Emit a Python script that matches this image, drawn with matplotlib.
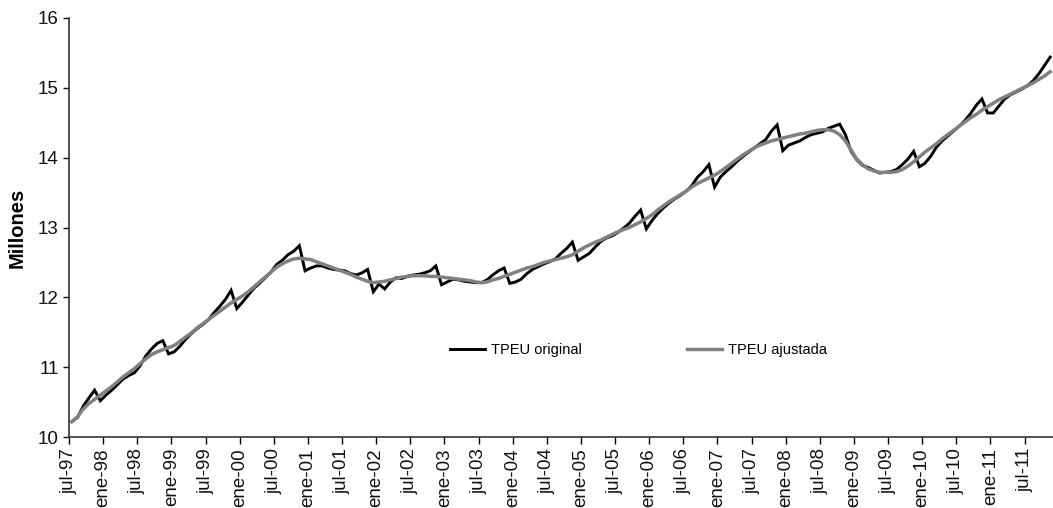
import matplotlib
matplotlib.use("Agg")
import matplotlib.pyplot as plt

plt.rcParams['font.family'] = ['Liberation Sans', 'DejaVu Sans']

tick_labels = []
for yy in range(97, 112):
    yr = f"{yy % 100:02d}"
    if yy > 97:
        tick_labels.append(f"ene-{yr}")
    tick_labels.append(f"jul-{yr}")

# Monthly values, jul-97 .. nov-11 (millions)
original = [
    10.22, 10.28, 10.44, 10.56, 10.67, 10.52,                                  # 1997 jul-dec
    10.60, 10.67, 10.75, 10.83, 10.88, 10.92, 11.02, 11.16, 11.26, 11.34, 11.38, 11.19,  # 1998
    11.22, 11.30, 11.40, 11.48, 11.55, 11.61, 11.68, 11.78, 11.87, 11.97, 12.10, 11.84,  # 1999
    11.93, 12.03, 12.13, 12.20, 12.28, 12.36, 12.47, 12.53, 12.61, 12.66, 12.74, 12.38,  # 2000
    12.42, 12.45, 12.45, 12.42, 12.40, 12.39, 12.38, 12.34, 12.32, 12.35, 12.40, 12.08,  # 2001
    12.19, 12.12, 12.22, 12.28, 12.27, 12.30, 12.32, 12.33, 12.35, 12.38, 12.45, 12.18,  # 2002
    12.22, 12.26, 12.25, 12.23, 12.22, 12.21, 12.21, 12.25, 12.32, 12.38, 12.42, 12.20,  # 2003
    12.22, 12.26, 12.34, 12.40, 12.44, 12.48, 12.51, 12.55, 12.63, 12.70, 12.79, 12.53,  # 2004
    12.58, 12.63, 12.72, 12.80, 12.85, 12.88, 12.93, 12.99, 13.06, 13.16, 13.25, 12.98,  # 2005
    13.10, 13.20, 13.28, 13.35, 13.41, 13.46, 13.52, 13.60, 13.72, 13.80, 13.90, 13.58,  # 2006
    13.72, 13.80, 13.87, 13.95, 14.02, 14.08, 14.14, 14.20, 14.26, 14.38, 14.47, 14.10,  # 2007
    14.18, 14.21, 14.24, 14.29, 14.33, 14.35, 14.37, 14.42, 14.45, 14.48, 14.33, 14.09,  # 2008
    13.97, 13.89, 13.86, 13.82, 13.78, 13.79, 13.80, 13.83, 13.90, 13.98, 14.09, 13.87,  # 2009
    13.92, 14.02, 14.15, 14.24, 14.31, 14.38, 14.45, 14.53, 14.63, 14.75, 14.84, 14.64,  # 2010
    14.64, 14.74, 14.84, 14.90, 14.94, 14.98, 15.03, 15.10, 15.20, 15.32, 15.44,         # 2011 jan-nov
]

ajustada = [
    10.22, 10.29, 10.40, 10.48, 10.54, 10.60,
    10.66, 10.72, 10.79, 10.86, 10.92, 10.98, 11.05, 11.12, 11.18, 11.22, 11.25, 11.28,
    11.31, 11.37, 11.43, 11.49, 11.56, 11.62, 11.68, 11.74, 11.80, 11.86, 11.92, 11.97,
    12.02, 12.08, 12.15, 12.22, 12.29, 12.36, 12.43, 12.48, 12.52, 12.55, 12.56, 12.55,
    12.54, 12.51, 12.48, 12.45, 12.42, 12.39, 12.36, 12.33, 12.29, 12.26, 12.23, 12.21,
    12.22, 12.23, 12.25, 12.27, 12.29, 12.30, 12.31, 12.31, 12.31, 12.30, 12.30, 12.29,
    12.28, 12.27, 12.26, 12.25, 12.24, 12.22, 12.21, 12.22, 12.25, 12.27, 12.30, 12.33,
    12.36, 12.39, 12.42, 12.44, 12.47, 12.50, 12.52, 12.54, 12.56, 12.58, 12.61, 12.66,
    12.71, 12.75, 12.79, 12.82, 12.86, 12.90, 12.94, 12.97, 13.00, 13.04, 13.08, 13.13,
    13.18, 13.25, 13.31, 13.37, 13.42, 13.47, 13.52, 13.58, 13.63, 13.67, 13.71, 13.75,
    13.80, 13.86, 13.92, 13.98, 14.04, 14.09, 14.14, 14.18, 14.21, 14.24, 14.26, 14.28,
    14.30, 14.32, 14.34, 14.35, 14.37, 14.39, 14.40, 14.40, 14.38, 14.33, 14.24, 14.11,
    13.98, 13.90, 13.84, 13.81, 13.79, 13.79, 13.79, 13.80, 13.83, 13.88, 13.94, 14.01,
    14.08, 14.14, 14.20, 14.27, 14.33, 14.39, 14.45, 14.51, 14.57, 14.62, 14.68, 14.73,
    14.78, 14.83, 14.87, 14.91, 14.95, 14.99, 15.03, 15.07, 15.12, 15.17, 15.23,
]

series_names = ["TPEU original", "TPEU ajustada"]

n = len(original)
x = [i + 0.5 for i in range(n)]

fig = plt.figure(figsize=(10.53, 5.08), dpi=100)
ax = fig.add_axes([69 / 1053, 1 - 437 / 508, 1 - 69 / 1053, (437 - 18) / 508])

ax.plot(x, original, color="black", lw=2.1, label=series_names[0], solid_joinstyle="miter")
ax.plot(x, ajustada, color="#808080", lw=2.5, label=series_names[1])

ax.set_xlim(0, n)
ax.set_ylim(10, 16)
ax.set_yticks(range(10, 17))
ax.set_xticks([6 * k for k in range(len(tick_labels))])
ax.set_xticklabels(tick_labels, rotation=90, fontsize=13.5, color="#111111")
ax.tick_params(axis="y", labelsize=13.5, colors="#111111", length=4, width=1, direction="out")
ax.tick_params(axis="x", length=5, width=1, direction="out", pad=3)

for s in ["top", "right"]:
    ax.spines[s].set_visible(False)
for s in ["left", "bottom"]:
    ax.spines[s].set_color("#333333")
    ax.spines[s].set_linewidth(1.2)

ax.set_ylabel("Millones", fontsize=14.5, fontweight="bold")
ax.yaxis.set_label_coords(-0.043, 0.5)

leg = ax.legend(loc="center", bbox_to_anchor=(0.579, 0.2076), ncol=2, frameon=False,
                fontsize=10.5, handlelength=2.4, columnspacing=7.2, handletextpad=0.4)

fig.savefig("out.png", dpi=100)
